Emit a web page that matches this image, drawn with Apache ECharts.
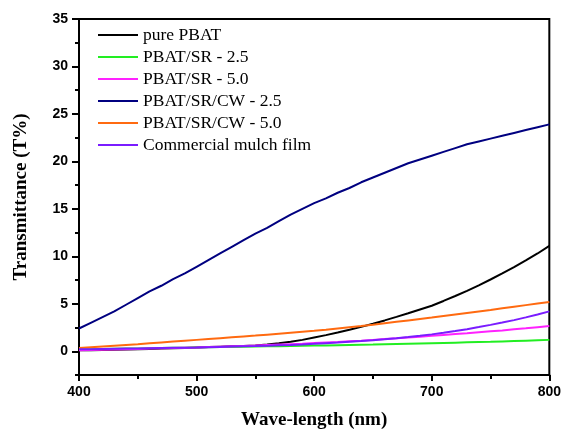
<!DOCTYPE html>
<html>
<head>
<meta charset="utf-8">
<script src="https://cdn.jsdelivr.net/npm/echarts@6/dist/echarts.min.js"></script>
<style>
html,body{margin:0;padding:0;background:#fff;}
#chart{width:564px;height:435px;}
</style>
</head>
<body>
<div id="chart"></div>
<script>
// Wavelength (nm)
var wavelengths = [400,410,420,430,440,450,460,470,480,490,500,510,520,530,540,550,560,570,580,590,600,610,620,630,640,650,660,670,680,690,700,710,720,730,740,750,760,770,780,790,800];

var seriesNames = ['pure PBAT','PBAT/SR - 2.5','PBAT/SR - 5.0','PBAT/SR/CW - 2.5','PBAT/SR/CW - 5.0','Commercial mulch film'];

var purePBAT = [0.10,0.12,0.14,0.16,0.19,0.22,0.25,0.28,0.31,0.35,0.40,0.44,0.48,0.52,0.56,0.62,0.72,0.85,1.00,1.20,1.45,1.70,1.97,2.26,2.57,2.90,3.25,3.62,4.00,4.40,4.80,5.30,5.82,6.37,6.95,7.56,8.20,8.87,9.57,10.30,11.10];
var sr25 = [0.20,0.22,0.24,0.26,0.28,0.30,0.32,0.34,0.36,0.38,0.40,0.42,0.44,0.46,0.48,0.50,0.52,0.54,0.56,0.58,0.60,0.62,0.64,0.66,0.68,0.70,0.73,0.76,0.79,0.82,0.85,0.88,0.91,0.94,0.97,1.00,1.04,1.08,1.12,1.16,1.20];
var sr50 = [0.10,0.13,0.16,0.19,0.22,0.25,0.28,0.31,0.34,0.37,0.40,0.44,0.48,0.52,0.56,0.60,0.65,0.70,0.75,0.80,0.86,0.92,0.98,1.05,1.12,1.20,1.28,1.36,1.45,1.54,1.63,1.72,1.81,1.90,2.00,2.10,2.20,2.31,2.42,2.54,2.65];
var srcw25 = [2.4,3.0,3.6,4.2,4.9,5.6,6.3,6.9,7.6,8.2,8.9,9.6,10.3,11.0,11.7,12.4,13.0,13.7,14.4,15.0,15.6,16.1,16.7,17.2,17.8,18.3,18.8,19.3,19.8,20.2,20.6,21.0,21.4,21.8,22.1,22.4,22.7,23.0,23.3,23.6,23.9];
var srcw50 = [0.35,0.43,0.51,0.59,0.67,0.75,0.84,0.93,1.02,1.11,1.20,1.29,1.38,1.47,1.56,1.65,1.75,1.85,1.95,2.05,2.15,2.27,2.40,2.53,2.66,2.80,2.95,3.10,3.25,3.40,3.55,3.71,3.87,4.03,4.19,4.35,4.52,4.69,4.86,5.03,5.20];
var mulch = [0.20,0.22,0.24,0.26,0.28,0.30,0.32,0.34,0.36,0.38,0.40,0.43,0.46,0.49,0.52,0.55,0.59,0.63,0.67,0.72,0.78,0.85,0.92,1.00,1.08,1.17,1.27,1.38,1.50,1.63,1.78,1.95,2.13,2.33,2.55,2.78,3.02,3.28,3.57,3.88,4.20];

var yTickValues = [0,5,10,15,20,25,30,35];

var colors = ['#000000','#22ee22','#ff22ff','#000080','#ff6a10','#7a1cff'];
var seriesData = [purePBAT, sr25, sr50, srcw25, srcw50, mulch];

function pairs(arr){
  return wavelengths.map(function(w,i){ return [w, arr[i]]; });
}

var chart = echarts.init(document.getElementById('chart'), null, {renderer:'canvas'});
var labelFont = {fontFamily:'Liberation Sans, Arial, sans-serif', fontWeight:'bold', fontSize:14, color:'#000'};
var titleFont = {fontFamily:'Liberation Serif, Times New Roman, serif', fontWeight:'bold', fontSize:19, color:'#000'};

var option = {
  backgroundColor:'#fff',
  animation:false,
  grid:{left:79, right:12, top:19, bottom:55, show:true, borderColor:'#000', borderWidth:2, backgroundColor:'transparent'},
  legend:{
    orient:'vertical', left:98, top:26, padding:0,
    icon:'rect', itemWidth:40, itemHeight:2, itemGap:4,
    textStyle:{fontFamily:'Liberation Serif, Times New Roman, serif', fontSize:17.5, color:'#000', lineHeight:16},
    data: seriesNames
  },
  xAxis:[{
    type:'value', min:400, max:800, interval:100,
    name:'Wave-length (nm)', nameLocation:'middle', nameGap:36, nameTextStyle:titleFont,
    axisLine:{show:true, onZero:false, lineStyle:{color:'#000', width:2}},
    axisTick:{show:true, inside:false, length:6, lineStyle:{color:'#000', width:2}},
    minorTick:{show:true, splitNumber:2, length:4, lineStyle:{color:'#000', width:2}},
    axisLabel:Object.assign({margin:10}, labelFont),
    splitLine:{show:false}
  }],
  yAxis:[{
    type:'value', min:-2.5, max:35,
    name:'Transmittance (T%)', nameLocation:'middle', nameGap:48, nameTextStyle:titleFont,
    axisLine:{show:true, onZero:false, lineStyle:{color:'#000', width:2}},
    axisTick:{show:true, inside:false, length:7, customValues:yTickValues, lineStyle:{color:'#000', width:2}},
    axisLabel:Object.assign({margin:11, customValues:yTickValues}, labelFont),
    splitLine:{show:false}
  },{
    type:'value', min:-2.5, max:35, interval:2.5, position:'left',
    axisLine:{show:false},
    axisTick:{show:true, inside:false, length:4, lineStyle:{color:'#000', width:2}},
    axisLabel:{show:false},
    splitLine:{show:false}
  }],
  series: seriesNames.map(function(n,i){
    return {
      name:n, type:'line', data:pairs(seriesData[i]), yAxisIndex:0,
      symbol:'none', showSymbol:false, smooth:false,
      lineStyle:{color:colors[i], width:2}, itemStyle:{color:colors[i]},
      z: (i===3?3:2)
    };
  })
};
chart.setOption(option);
</script>
</body>
</html>
